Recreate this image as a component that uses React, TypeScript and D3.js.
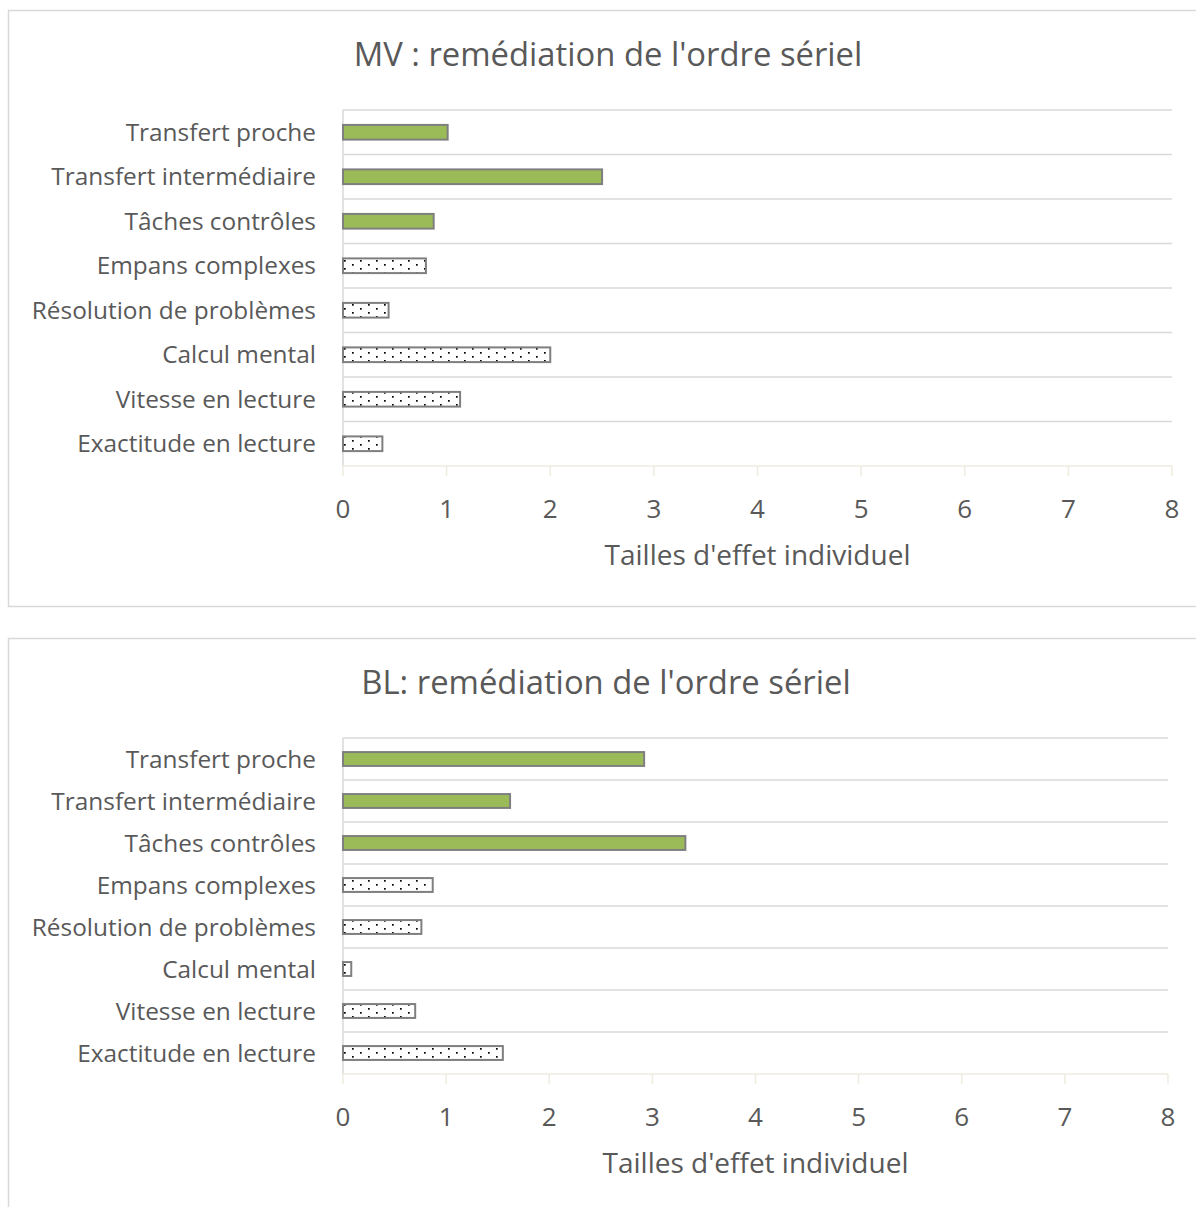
import { useEffect, useRef } from "react";
import * as d3 from "d3";

const categories = [
  "Transfert proche",
  "Transfert intermédiaire",
  "Tâches contrôles",
  "Empans complexes",
  "Résolution de problèmes",
  "Calcul mental",
  "Vitesse en lecture",
  "Exactitude en lecture",
];
// first three are transfer measures (solid green), the rest dotted
const taskType = ["transfert", "transfert", "transfert", "autre", "autre", "autre", "autre", "autre"];
const mvValues = [1.01, 2.5, 0.875, 0.8, 0.44, 2.0, 1.13, 0.38];
const blValues = [2.92, 1.62, 3.32, 0.87, 0.76, 0.08, 0.7, 1.55];
const xTicks = [0, 1, 2, 3, 4, 5, 6, 7, 8];
const titles = ["MV : remédiation de l'ordre sériel", "BL: remédiation de l'ordre sériel"];
const axisTitle = "Tailles d'effet individuel";

const FONT = "'Open Sans', sans-serif";
const TEXT = "#595959";

type Panel = {
  title: string;
  values: number[];
  boxY: number;
  top: number;
  bottom: number;
  right: number;
  titleX: number;
  titleY: number;
  tickY: number;
  axisTitleY: number;
};

const panels: Panel[] = [
  { title: titles[0], values: mvValues, boxY: 10.5, top: 110, bottom: 466, right: 1172, titleX: 608, titleY: 66, tickY: 518, axisTitleY: 565 },
  { title: titles[1], values: blValues, boxY: 638.5, top: 738, bottom: 1074, right: 1168, titleX: 606, titleY: 694, tickY: 1126, axisTitleY: 1173 },
];

const App = () => {
  const ref = useRef<SVGSVGElement>(null);

  useEffect(() => {
    const svg = d3.select(ref.current);
    svg.selectAll("*").remove();

    const defs = svg.append("defs");
    const pat = defs
      .append("pattern")
      .attr("id", "dots")
      .attr("patternUnits", "userSpaceOnUse")
      .attr("width", 16)
      .attr("height", 8);
    pat.append("rect").attr("width", 16).attr("height", 8).attr("fill", "#fff");
    pat.append("rect").attr("x", 0).attr("y", 0).attr("width", 1.7).attr("height", 1.7).attr("fill", "#000");
    pat.append("rect").attr("x", 8).attr("y", 4).attr("width", 1.7).attr("height", 1.7).attr("fill", "#000");

    panels.forEach((p, pi) => {
      const g = svg.append("g");
      const left = 343;

      // chart border
      g.append("rect")
        .attr("x", 8.5)
        .attr("y", p.boxY)
        .attr("width", 1220)
        .attr("height", pi === 0 ? 596 : 700)
        .attr("fill", "#fff")
        .attr("stroke", "#d9d9d9")
        .attr("stroke-width", 1.5);

      const x = d3.scaleLinear().domain([0, 8]).range([left, p.right]);
      const y = d3.scaleBand().domain(categories).range([p.top, p.bottom]).paddingInner(0.67).paddingOuter(0.335);
      const band = d3.scaleBand().domain(categories).range([p.top, p.bottom]);

      // title
      g.append("text")
        .attr("x", p.titleX)
        .attr("y", p.titleY)
        .attr("text-anchor", "middle")
        .attr("font-family", FONT)
        .attr("font-size", 32.8)
        .attr("fill", TEXT)
        .text(p.title);

      // horizontal gridlines at band boundaries
      g.append("g")
        .selectAll("line")
        .data(categories)
        .join("line")
        .attr("x1", left)
        .attr("x2", p.right)
        .attr("y1", (d) => band(d)!)
        .attr("y2", (d) => band(d)!)
        .attr("stroke", "#d9d9d9")
        .attr("stroke-width", 1.5);

      // vertical axis
      g.append("line")
        .attr("x1", left)
        .attr("x2", left)
        .attr("y1", p.top)
        .attr("y2", p.bottom)
        .attr("stroke", "#d9d9d9")
        .attr("stroke-width", 1.5);

      // bottom axis
      g.append("line")
        .attr("x1", left)
        .attr("x2", p.right)
        .attr("y1", p.bottom)
        .attr("y2", p.bottom)
        .attr("stroke", "#eeebdf")
        .attr("stroke-width", 1.5);
      g.append("g")
        .selectAll("line")
        .data(xTicks)
        .join("line")
        .attr("x1", (d) => x(d))
        .attr("x2", (d) => x(d))
        .attr("y1", p.bottom)
        .attr("y2", p.bottom + 10)
        .attr("stroke", "#eeebdf")
        .attr("stroke-width", 1.5);
      g.append("g")
        .selectAll("text")
        .data(xTicks)
        .join("text")
        .attr("x", (d) => x(d))
        .attr("y", p.tickY)
        .attr("text-anchor", "middle")
        .attr("font-family", FONT)
        .attr("font-size", 26)
        .attr("fill", TEXT)
        .text((d) => d);

      g.append("text")
        .attr("x", (left + p.right) / 2)
        .attr("y", p.axisTitleY)
        .attr("text-anchor", "middle")
        .attr("font-family", FONT)
        .attr("font-size", 28)
        .attr("fill", TEXT)
        .text(axisTitle);

      // category labels
      g.append("g")
        .selectAll("text")
        .data(categories)
        .join("text")
        .attr("x", 316)
        .attr("y", (d) => band(d)! + band.bandwidth() / 2)
        .attr("dy", "0.35em")
        .attr("text-anchor", "end")
        .attr("font-family", FONT)
        .attr("font-size", 24.4)
        .attr("fill", TEXT)
        .text((d) => d);

      // bars
      g.append("g")
        .selectAll("rect")
        .data(p.values)
        .join("rect")
        .attr("x", left)
        .attr("y", (_, i) => y(categories[i])!)
        .attr("width", (d) => x(d) - left)
        .attr("height", y.bandwidth())
        .attr("fill", (_, i) => (taskType[i] === "transfert" ? "#9bbb59" : "url(#dots)"))
        .attr("stroke", "#7f7f7f")
        .attr("stroke-width", 2);
    });
  });

  return (
    <svg
      ref={ref}
      width={1196}
      height={1207}
      style={{ position: "absolute", left: 0, top: 0, background: "#fff" }}
    ></svg>
  );
};

export default App;
